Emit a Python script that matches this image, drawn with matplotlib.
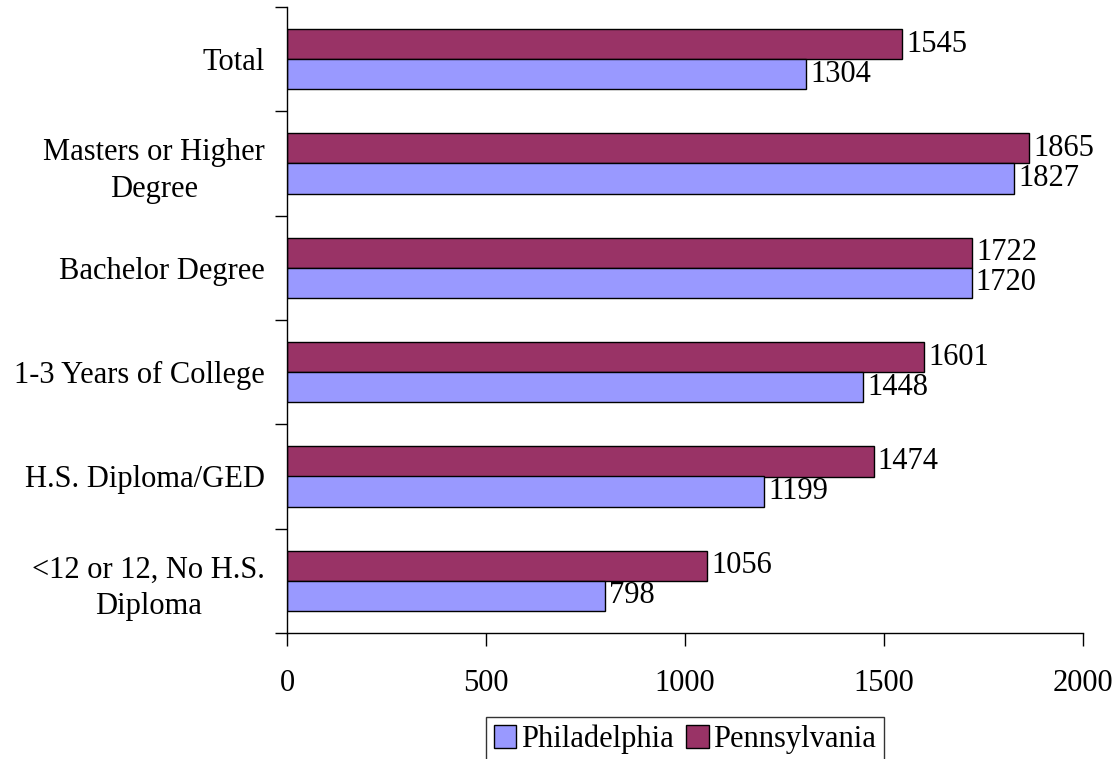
import matplotlib
matplotlib.use("Agg")
import matplotlib.pyplot as plt
import numpy as np

categories = [
    "Total",
    "Masters or Higher\nDegree",
    "Bachelor Degree",
    "1-3 Years of College",
    "H.S. Diploma/GED",
    "<12 or 12, No H.S.\nDiploma",
]
philadelphia = [1304, 1827, 1720, 1448, 1199, 798]
pennsylvania = [1545, 1865, 1722, 1601, 1474, 1056]
x_ticks = [0, 500, 1000, 1500, 2000]

plt.rcParams["font.family"] = ["Liberation Serif", "DejaVu Serif"]
FS = 22

fig = plt.figure(figsize=(11.19, 7.59), dpi=100)
ax = fig.add_axes([287 / 1119, 1 - 633 / 759, (1083 - 287) / 1119, (633 - 7) / 759])

n = len(categories)
# category centres from top to bottom
pos = np.arange(n)[::-1] + 0.5
h = 0.2876

ax.barh(pos + h / 2, pennsylvania, height=h, color="#993366",
        edgecolor="black", linewidth=1, label="Pennsylvania")
ax.barh(pos - h / 2, philadelphia, height=h, color="#9999FF",
        edgecolor="black", linewidth=1, label="Philadelphia")

for p, v in zip(pos, pennsylvania):
    ax.text(v + 10, p + h / 2, str(v), va="center", ha="left", fontsize=FS)
for p, v in zip(pos, philadelphia):
    ax.text(v + 10, p - h / 2, str(v), va="center", ha="left", fontsize=FS)

ax.set_xlim(0, 2000)
ax.set_ylim(0, n)
ax.set_xticks(x_ticks)
ax.set_xticklabels([str(t) for t in x_ticks], fontsize=FS)

# category boundaries carry the tick marks; labels sit at the centres
ax.set_yticks(np.arange(n + 1))
ax.set_yticklabels([])
ax.set_yticks(pos, minor=True)
ax.set_yticklabels(categories, minor=True, fontsize=FS,
                   multialignment="center", linespacing=1.35)
ax.tick_params(axis="y", which="minor", length=0, pad=16)
ax.tick_params(axis="y", which="major", length=9, width=1, direction="out")
ax.tick_params(axis="x", length=9, width=1, direction="out", pad=17)

for s in ["top", "right"]:
    ax.spines[s].set_visible(False)
for s in ["left", "bottom"]:
    ax.spines[s].set_linewidth(1)

handles, labels = ax.get_legend_handles_labels()
leg = fig.legend(handles[::-1], labels[::-1], loc="upper center",
                 bbox_to_anchor=(685 / 1119, 1 - 717 / 759), ncol=2,
                 fontsize=FS, frameon=True, fancybox=False, shadow=False,
                 handlelength=0.75, handleheight=0.75, handletextpad=0.15,
                 columnspacing=0.4, borderpad=0.25, borderaxespad=0)
leg.get_frame().set_edgecolor("black")
leg.get_frame().set_linewidth(1)

fig.savefig("out.png", dpi=100)
